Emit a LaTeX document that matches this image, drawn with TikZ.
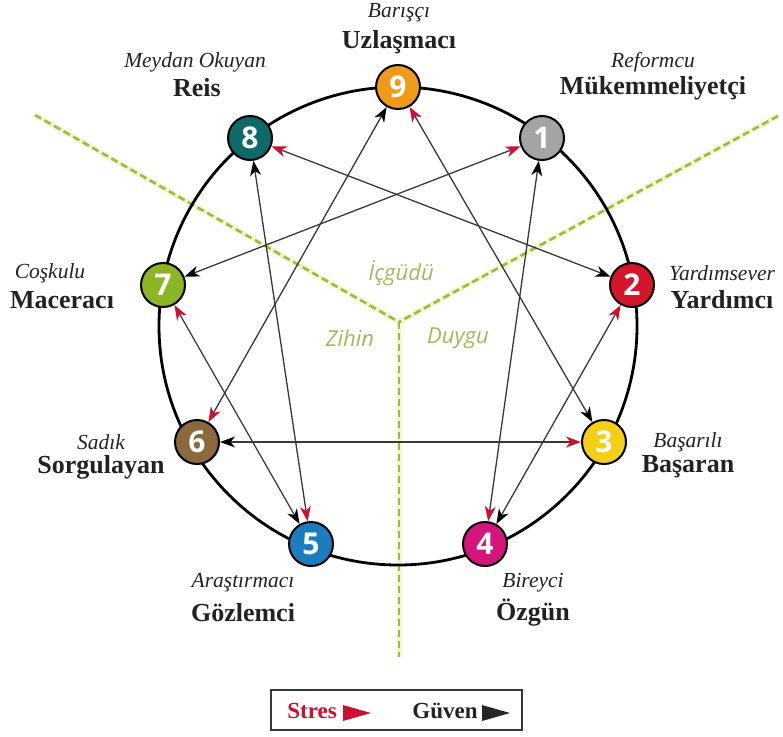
\documentclass[tikz,border=0pt]{standalone}
\usepackage{fontspec}
\setmainfont{Liberation Serif}
\newfontfamily\numfont{Open Sans}
\newfontfamily\grfont{Open Sans}
\usetikzlibrary{arrows.meta}
\definecolor{c9}{HTML}{F09A1A}
\definecolor{c1}{HTML}{A4A4A4}
\definecolor{c2}{HTML}{D5152B}
\definecolor{c3}{HTML}{F5CE16}
\definecolor{c4}{HTML}{D4157E}
\definecolor{c5}{HTML}{1B7DC0}
\definecolor{c6}{HTML}{8C693C}
\definecolor{c7}{HTML}{8BB523}
\definecolor{c8}{HTML}{0E6A6A}
\definecolor{strred}{HTML}{CC1030}
\definecolor{dashgreen}{HTML}{A3B746}
\definecolor{halo}{HTML}{F0F8CA}
\definecolor{grtext}{HTML}{A0B858}
\definecolor{conncol}{HTML}{383838}
\definecolor{labcol}{HTML}{222222}
\tikzset{
  enn/.style={circle, draw=black, line width=2pt, minimum size=44pt, inner sep=0pt,
    font=\numfont\bfseries\fontsize{30}{30}\selectfont, text=white},
  conn/.style={draw=conncol, line width=1.3pt,
    {Stealth[length=15pt, width=11pt, inset=4.5pt, color=strred]}-{Stealth[length=15pt, width=11pt, inset=4.5pt, color=black]}},
  itl/.style={font=\itshape\fontsize{21.5}{23}\selectfont, text=labcol, inner sep=0pt},
  bdl/.style={font=\bfseries\fontsize{26}{28}\selectfont, text=labcol, inner sep=0pt},
  dashhalo/.style={draw=halo, line width=5pt},
  dashln/.style={draw=dashgreen, line width=2.6pt, dash pattern=on 7pt off 4pt},
  grlab/.style={font=\grfont\itshape\fontsize{22}{24}\selectfont, text=grtext, inner sep=0pt},
}
\begin{document}
\begin{tikzpicture}[x=1pt, y=-1pt]
\useasboundingbox (0,0) rectangle (783,736);
% dashed centre lines
\coordinate (J) at (399,322);
\coordinate (DL) at (35,115);
\coordinate (DR) at (778,116);
\coordinate (DB) at (399,657);
\draw[dashhalo] (DL) -- (J) -- (DR) (J) -- (DB);
\draw[dashln] (DL) -- (J);
\draw[dashln] (DR) -- (J);
\draw[dashln] (J) -- (DB);
\node[grlab] (ic) at (401,273) {İçgüdü};
\node[grlab] (zh) at (350,338) {Zihin};
\node[grlab] (dy) at (458,338) {Duygu};
% outer circle
\draw[line width=2.8pt] (398,326) circle [radius=239pt];
% nodes
\node[enn, fill=c9] (n9) at (398,87) {9};
\node[enn, fill=c1] (n1) at (542,138) {1};
\node[enn, fill=c2] (n2) at (632,285) {2};
\node[enn, fill=c3] (n3) at (604,442) {3};
\node[enn, fill=c4] (n4) at (485,544) {4};
\node[enn, fill=c5] (n5) at (311,544) {5};
\node[enn, fill=c6] (n6) at (197,442) {6};
\node[enn, fill=c7] (n7) at (163,285) {7};
\node[enn, fill=c8] (n8) at (250,138) {8};
% connectors (red tip at start, black tip at end)
\draw[conn] (n8) -- (n2);
\draw[conn] (n1) -- (n7);
\draw[conn] (n6) -- (n9);
\draw[conn] (n9) -- (n3);
\draw[conn] (n5) -- (n8);
\draw[conn] (n7) -- (n5);
\draw[conn] (n4) -- (n1);
\draw[conn] (n2) -- (n4);
\draw[conn] (n3) -- (n6);
% labels
\node[itl] (l9a) at (399,13) {Barışçı};
\node[bdl] (l9b) at (399,42) {Uzlaşmacı};
\node[itl] (l8a) at (195,62) {Meydan Okuyan};
\node[bdl] (l8b) at (197,88) {Reis};
\node[itl] (l1a) at (653,62) {Reformcu};
\node[bdl] (l1b) at (653,88) {Mükemmeliyetçi};
\node[itl] (l7a) at (50,273) {Coşkulu};
\node[bdl] (l7b) at (62,300) {Maceracı};
\node[itl] (l2a) at (722,273) {Yardımsever};
\node[bdl] (l2b) at (722,300) {Yardımcı};
\node[itl] (l6a) at (101,442) {Sadık};
\node[bdl] (l6b) at (101,467) {Sorgulayan};
\node[itl] (l3a) at (688,442) {Başarılı};
\node[bdl] (l3b) at (688,467) {Başaran};
\node[itl] (l5a) at (243,583) {Araştırmacı};
\node[bdl] (l5b) at (243,613) {Gözlemci};
\node[itl] (l4a) at (533,583) {Bireyci};
\node[bdl] (l4b) at (533,613) {Özgün};
% legend
\draw[draw=conncol, line width=2.2pt] (271,690) rectangle (522,730);
\node[bdl, text=strred, font=\bfseries\fontsize{23}{25}\selectfont] (ls) at (312,711) {Stres};
\fill[strred] (343,705) -- (371,713) -- (343,721) -- cycle;
\node[bdl, font=\bfseries\fontsize{23}{25}\selectfont] (lg) at (445,711) {Güven};
\fill[black!85] (482,705) -- (510,713) -- (482,721) -- cycle;
\end{tikzpicture}
\end{document}
